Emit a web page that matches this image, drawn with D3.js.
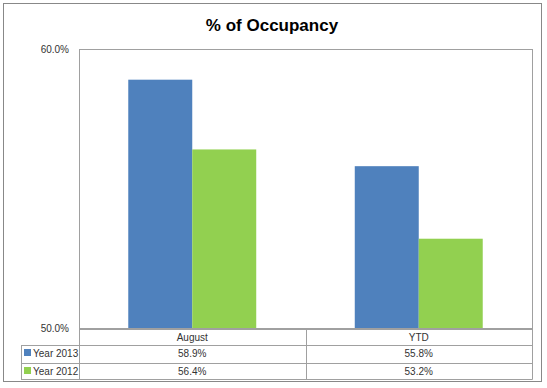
<!DOCTYPE html>
<html>
<head>
<meta charset="utf-8">
<script src="https://cdn.jsdelivr.net/npm/d3@7"></script>
<style>
  body { margin: 0; background: #fff; }
  svg { font-family: "Liberation Sans", "DejaVu Sans", sans-serif; }
</style>
</head>
<body>
<svg id="chart" width="547" height="388"></svg>
<script>
// chart values
var categories = ['August', 'YTD'];
var seriesNames = ['Year 2013', 'Year 2012'];
var year2013 = [58.9, 55.8];
var year2012 = [56.4, 53.2];
var yTicks = [50, 60];
var colors = ['#4f81bd', '#92d050'];

var svg = d3.select('#chart');
var m = { left: 79, right: 532, top: 49, bottom: 328 };
var lineCol = '#a0a0a0';

// outer frame
svg.append('rect')
  .attr('x', 3.5).attr('y', 3.5)
  .attr('width', 538).attr('height', 378)
  .attr('fill', '#fff').attr('stroke', '#888').attr('stroke-width', 1);

svg.append('text')
  .attr('x', 272).attr('y', 31)
  .attr('text-anchor', 'middle')
  .attr('font-size', 17).attr('font-weight', 'bold')
  .text('% of Occupancy');

var x0 = d3.scaleBand().domain(categories).range([m.left, m.right]);
var inner = d3.scaleBand().domain(seriesNames)
  .range([0, x0.bandwidth()]).paddingOuter(0.77).paddingInner(0);
var y = d3.scaleLinear().domain([50, 60]).range([m.bottom, m.top]);

// plot area border
svg.append('rect')
  .attr('x', m.left + 0.5).attr('y', m.top + 0.5)
  .attr('width', m.right - m.left).attr('height', m.bottom - m.top)
  .attr('fill', 'none').attr('stroke', lineCol);

// y axis labels
svg.selectAll('text.ytick')
  .data(yTicks)
  .enter().append('text')
  .attr('class', 'ytick')
  .attr('x', 69).attr('y', function (d) { return y(d) + 4; })
  .attr('text-anchor', 'end').attr('font-size', 10)
  .attr('fill', '#333')
  .text(function (d) { return d.toFixed(1) + '%'; });

var series = [year2013, year2012];
series.forEach(function (vals, si) {
  svg.selectAll('rect.s' + si)
    .data(vals)
    .enter().append('rect')
    .attr('class', 's' + si)
    .attr('x', function (d, i) { return x0(categories[i]) + inner(seriesNames[si]); })
    .attr('y', function (d) { return y(d); })
    .attr('width', inner.bandwidth())
    .attr('height', function (d) { return y(50) - y(d); })
    .attr('fill', colors[si]);
});

// data table
var rowH = [329, 345, 363, 379];
var tbl = svg.append('g').attr('stroke', lineCol).attr('fill', 'none');
tbl.append('line').attr('x1', m.left).attr('x2', m.right + 0.5)
  .attr('y1', rowH[0] + 0.5).attr('y2', rowH[0] + 0.5);
[1, 2, 3].forEach(function (r) {
  tbl.append('line').attr('x1', 21).attr('x2', m.right + 0.5)
    .attr('y1', rowH[r] + 0.5).attr('y2', rowH[r] + 0.5);
});
tbl.append('line').attr('x1', 21.5).attr('x2', 21.5)
  .attr('y1', rowH[1]).attr('y2', rowH[3] + 0.5);
[m.left, x0('YTD'), m.right].forEach(function (xx) {
  tbl.append('line').attr('x1', Math.round(xx) + 0.5).attr('x2', Math.round(xx) + 0.5)
    .attr('y1', m.bottom).attr('y2', rowH[3] + 0.5);
});

svg.selectAll('text.cat')
  .data(categories)
  .enter().append('text')
  .attr('class', 'cat')
  .attr('x', function (d) { return x0(d) + x0.bandwidth() / 2; })
  .attr('y', rowH[0] + 12)
  .attr('text-anchor', 'middle').attr('font-size', 10).attr('fill', '#333')
  .text(function (d) { return d; });

series.forEach(function (vals, si) {
  var ty = rowH[si + 1] + 12;
  svg.append('rect')
    .attr('x', 24).attr('y', ty - 8)
    .attr('width', 7).attr('height', 7)
    .attr('fill', colors[si]);
  svg.append('text')
    .attr('x', 33).attr('y', ty)
    .attr('font-size', 10).attr('fill', '#333')
    .text(seriesNames[si]);
  svg.selectAll('text.v' + si)
    .data(vals)
    .enter().append('text')
    .attr('class', 'v' + si)
    .attr('x', function (d, i) { return x0(categories[i]) + x0.bandwidth() / 2; })
    .attr('y', ty)
    .attr('text-anchor', 'middle').attr('font-size', 10).attr('fill', '#333')
    .text(function (d) { return d.toFixed(1) + '%'; });
});
</script>
</body>
</html>
